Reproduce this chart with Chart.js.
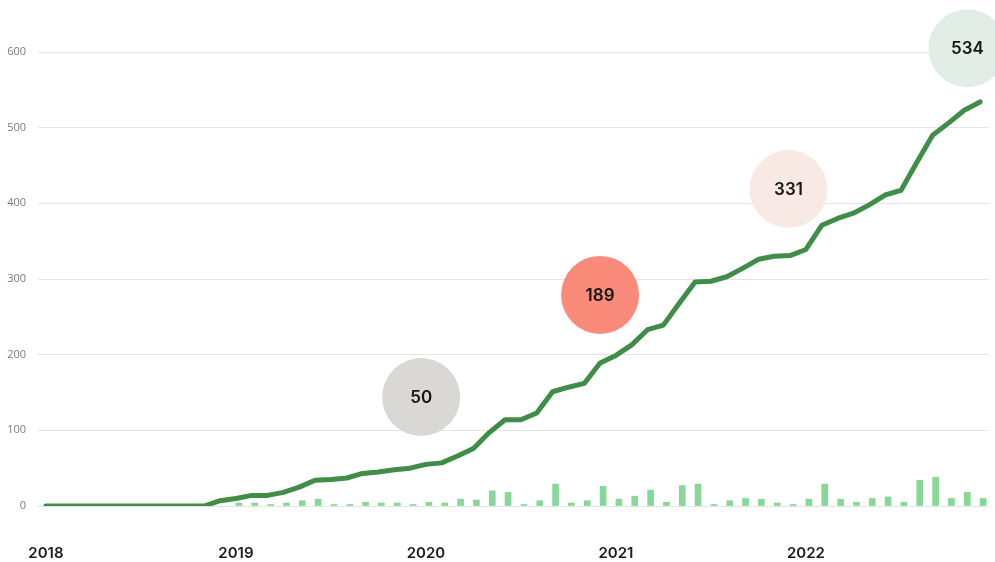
<!DOCTYPE html>
<html lang="en">
<head>
<meta charset="UTF-8">
<title>Cumulative growth 2018-2022</title>
<script src="https://cdn.jsdelivr.net/npm/chart.js"></script>
<style>
  body { margin: 0; background: #fff; }
  #wrap { width: 995px; height: 562px; }
</style>
</head>
<body>
<div id="wrap"><canvas id="chart" width="995" height="562"></canvas></div>
<script>
// values, one entry per month (Jan 2018 - Dec 2022)
const years = ['2018', '2019', '2020', '2021', '2022'];
const cumulative = [
  0, 0, 0, 0, 0, 0, 0, 0, 0, 0, 0, 7,
  10, 14, 14, 18, 25, 34, 35, 37, 43, 45, 48, 50,
  55, 57, 66, 76, 97, 114, 114, 123, 151, 157, 162, 189,
  199, 213, 233, 239, 268, 296, 297, 303, 314, 326, 330, 331,
  339, 371, 380, 387, 398, 411, 417, 454, 490, 506, 523, 534
];
const monthly = [
  null, null, null, null, null, null, null, null, null, null, null, null,
  4, 4, 2, 4, 7, 9, 2, 2, 5, 4, 4, 2,
  5, 4, 9, 8, 20, 18, 2, 7, 29, 4, 7, 26,
  9, 13, 21, 5, 27, 29, 2, 7, 10, 9, 4, 2,
  9, 29, 9, 5, 10, 12, 5, 34, 38, 10, 18, 10
];
// year-end totals shown in the circles
const calloutYears = ['2019', '2020', '2021', '2022'];

// month labels for the category axis
const labels = [];
years.forEach(y => {
  for (let m = 1; m <= 12; m++) labels.push(y + '-' + String(m).padStart(2, '0'));
});

// where each circle sits relative to its point (months, units) and its colour
const calloutShift = [[0.7, 94], [0, 90], [-0.1, 88], [-0.8, 71]];
const calloutColors = ['#d9d8d4', '#fa8b7b', '#f8e9e4', '#e3ede7'];

const calloutIdx = calloutYears.map(y => years.indexOf(y) * 12 + 11);
const calloutValues = calloutIdx.map(i => cumulative[i]);
const bubbles = calloutIdx.map((i, k) => ({
  x: i + calloutShift[k][0],
  y: cumulative[i] + calloutShift[k][1],
  r: 39
}));

// write the numbers inside the circles
const bubbleText = {
  id: 'bubbleText',
  afterDatasetsDraw(chart) {
    const meta = chart.getDatasetMeta(0);
    const ctx = chart.ctx;
    ctx.save();
    ctx.font = '600 17px Inter, sans-serif';
    ctx.fillStyle = '#161616';
    ctx.textAlign = 'center';
    ctx.textBaseline = 'middle';
    meta.data.forEach((el, i) => ctx.fillText(String(calloutValues[i]), el.x, el.y + 1));
    ctx.restore();
  }
};

new Chart(document.getElementById('chart'), {
  type: 'bar',
  data: {
    labels: labels,
    datasets: [
      {
        type: 'bubble',
        data: bubbles,
        xAxisID: 'xb',
        yAxisID: 'y',
        backgroundColor: calloutColors,
        borderWidth: 0,
        clip: false,
        order: 1
      },
      {
        type: 'line',
        data: cumulative,
        borderColor: '#3f8d47',
        borderWidth: 5,
        pointRadius: 0,
        tension: 0,
        borderJoinStyle: 'round',
        borderCapStyle: 'round',
        order: 2
      },
      {
        type: 'bar',
        data: monthly,
        backgroundColor: '#87d897',
        barThickness: 6,
        order: 3
      }
    ]
  },
  options: {
    responsive: false,
    animation: false,
    events: [],
    layout: { autoPadding: false, padding: { top: 52, right: 7, left: 0, bottom: 0 } },
    plugins: {
      legend: { display: false },
      tooltip: { enabled: false }
    },
    scales: {
      x: {
        type: 'category',
        offset: true,
        grid: { display: false, drawTicks: false },
        border: { display: false },
        ticks: {
          autoSkip: false,
          maxRotation: 0,
          padding: 38,
          color: '#1b1b1b',
          font: { family: 'Inter', size: 15, weight: '600' },
          callback: (v, i) => (i % 12 === 0 ? labels[i].slice(0, 4) : '')
        },
        // fixed height, and no extra side room for the year labels
        afterFit: s => { s.height = 56; s.paddingLeft = 0; s.paddingRight = 0; }
      },
      // hidden month axis for the circles, same span as the category axis
      xb: {
        type: 'linear',
        display: false,
        offset: false,
        grid: { offset: false },
        min: -0.5,
        max: 59.5
      },
      y: {
        min: 0,
        max: 600,
        grid: { color: '#e4e4e4', drawTicks: false },
        border: { display: false },
        ticks: {
          stepSize: 100,
          padding: 12,
          color: '#7a7a7a',
          font: { family: 'Open Sans', size: 11 }
        },
        afterFit: s => { s.width = 38; }
      }
    }
  },
  plugins: [bubbleText]
});
</script>
</body>
</html>
